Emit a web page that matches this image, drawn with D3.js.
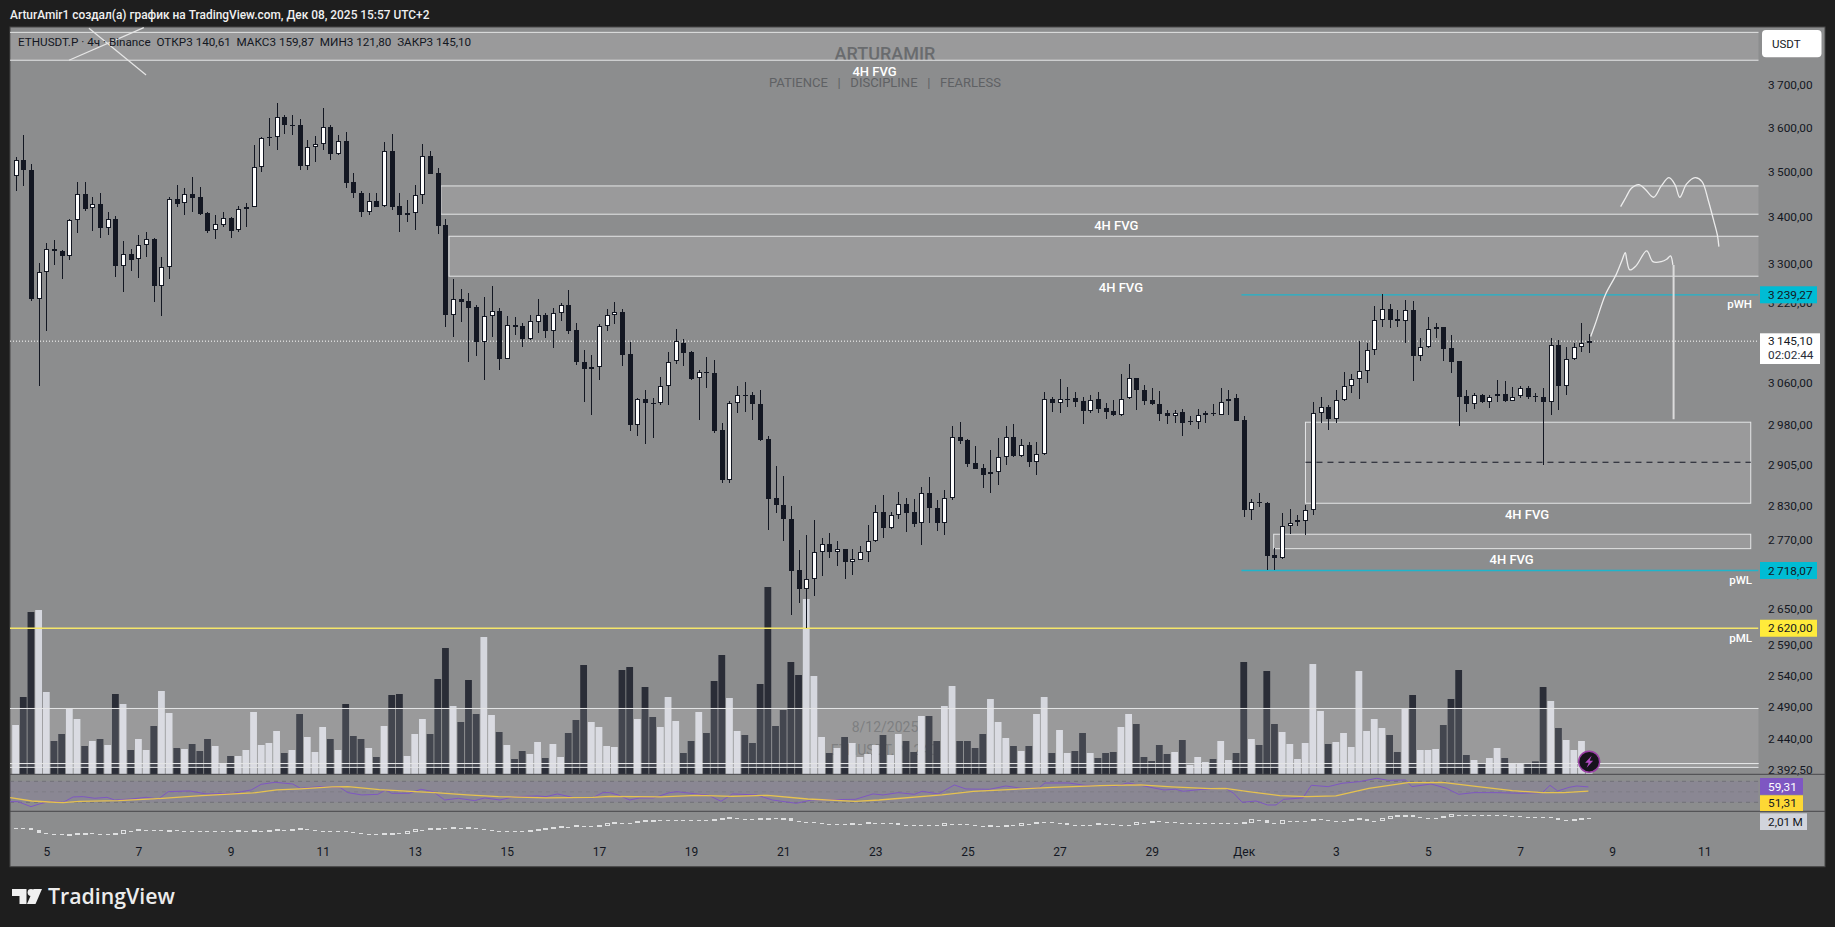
<!DOCTYPE html>
<html>
<head>
<meta charset="utf-8">
<script src="https://cdn.jsdelivr.net/npm/d3@7"></script>
<style>
html, body { margin: 0; padding: 0; background: #1e1e1e; overflow: hidden; }
svg { display: block; font-family: Roboto, sans-serif; }
</style>
</head>
<body>
<script>
// 4h candles, first one sits 4 bars before the "5" tick
var firstBar = -4;
var opens = [3493,3529,3507,3230,3286,3335,3330,3321,3397,3453,3423,3432,3379,3399,3300,3325,3313,3343,3356,3258,
3297,3442,3434,3453,3447,3412,3375,3387,3401,3375,3421,3426,3513,3578,3581,3627,3607,3608,3517,3558,
3566,3604,3542,3572,3480,3456,3415,3439,3427,3549,3427,3407,3413,3451,3538,3500,3386,3197,3230,3227,
3214,3143,3195,3206,3110,3177,3176,3150,3184,3198,3166,3201,3218,3168,3104,3089,3093,3175,3197,3205,
3120,2981,3031,3024,3023,3056,3105,3142,3124,3072,3084,3083,2972,2880,3023,3039,3039,3021,2955,2846,
2834,2809,2719,2687,2703,2750,2764,2751,2756,2733,2737,2750,2769,2822,2792,2815,2836,2821,2801,2855,
2828,2802,2846,2959,2954,2910,2901,2890,2893,2921,2959,2924,2944,2913,2927,3031,3024,3031,3033,3027,
3009,3031,3014,3008,3000,3033,3072,3048,3029,3021,3004,2998,3007,2988,2988,3000,3004,3001,3027,3034,
2991,2824,2839,2838,2745,2739,2797,2804,2805,2824,3005,3016,2994,3029,3056,3071,3085,3127,3187,3210,
3190,3185,3208,3116,3133,3169,3174,3132,3106,3037,3021,3039,3025,3037,3041,3028,3037,3053,3037,3035,
3025,3138,3057,3109,3133,3140.61];
var highs = [3535,3586,3521,3305,3347,3354,3332,3399,3481,3481,3448,3457,3415,3406,3352,3335,3365,3371,3359,3318,
3448,3473,3467,3491,3469,3415,3408,3414,3404,3428,3434,3563,3581,3625,3659,3632,3632,3623,3575,3584,
3648,3608,3586,3593,3500,3461,3456,3457,3569,3588,3456,3441,3473,3565,3549,3511,3399,3273,3251,3243,
3219,3234,3258,3212,3195,3193,3182,3198,3231,3201,3212,3223,3249,3181,3128,3118,3180,3210,3225,3211,
3144,3033,3049,3034,3074,3123,3170,3150,3126,3088,3113,3108,2986,3027,3057,3065,3045,3049,2960,2905,
2887,2832,2754,2780,2807,2775,2783,2770,2756,2756,2760,2798,2834,2852,2822,2857,2846,2844,2866,2885,
2843,2860,2980,2988,2955,2942,2908,2935,2957,2980,2984,2955,2949,2950,3045,3036,3070,3054,3045,3035,
3039,3045,3023,3030,3080,3100,3073,3058,3052,3047,3011,3011,3012,2999,3012,3009,3021,3052,3049,3041,
2999,2844,2855,2839,2757,2820,2827,2816,2834,3025,3035,3020,3049,3084,3081,3146,3141,3216,3241,3220,
3208,3229,3227,3151,3193,3181,3174,3158,3106,3049,3044,3041,3039,3068,3067,3054,3056,3056,3043,3052,
3151,3148,3133,3141,3181,3159.87];
var lows = [3461,3472,3227,3056,3166,3302,3273,3312,3370,3416,3374,3359,3365,3277,3245,3288,3275,3319,3225,3195,
3273,3426,3407,3415,3408,3370,3356,3381,3359,3372,3383,3425,3502,3561,3551,3588,3587,3508,3508,3526,
3551,3530,3541,3467,3444,3404,3409,3425,3425,3418,3372,3392,3376,3432,3498,3366,3174,3154,3184,3104,
3116,3068,3154,3088,3110,3158,3134,3148,3162,3152,3132,3185,3160,3097,3026,3001,3068,3166,3180,3095,
2971,2960,2945,2957,3020,3020,3099,3096,3068,2991,3053,2967,2874,2874,3005,3007,2991,2951,2789,2820,
2770,2642,2662,2621,2675,2708,2739,2726,2704,2710,2736,2733,2768,2774,2791,2808,2786,2795,2763,2802,
2787,2781,2842,2946,2904,2899,2865,2856,2870,2907,2921,2921,2903,2889,2925,3007,3004,3016,3017,2984,
3004,3005,2993,2999,2999,3031,3011,3019,3020,2990,2984,2986,2961,2982,2975,2986,2998,3001,3001,2989,
2813,2807,2830,2719,2719,2738,2782,2797,2780,2816,2986,2972,2985,3028,3044,3032,3063,3117,3174,3172,
3174,3141,3067,3106,3132,3151,3106,3083,2979,3007,3012,3023,3014,3026,3025,3027,3034,3031,3025,2906,
3000,3011,3040,3108,3124,3121.80];
var closes = [3529,3506,3230,3286,3335,3330,3321,3397,3453,3422,3431,3379,3399,3300,3324,3312,3343,3356,3258,3297,
3442,3432,3453,3446,3411,3374,3388,3401,3374,3420,3426,3513,3578,3581,3627,3608,3609,3517,3558,3566,
3604,3542,3572,3479,3455,3415,3438,3426,3549,3426,3407,3413,3451,3538,3499,3385,3197,3230,3225,3213,
3143,3195,3206,3110,3177,3174,3150,3185,3197,3166,3201,3218,3166,3103,3089,3093,3175,3197,3204,3118,
2981,3031,3023,3022,3056,3104,3146,3122,3070,3084,3083,2971,2880,3023,3039,3038,3021,2954,2845,2833,
2808,2718,2687,2703,2750,2764,2750,2755,2733,2738,2750,2769,2822,2792,2815,2835,2820,2800,2855,2829,
2802,2846,2959,2952,2909,2900,2889,2893,2921,2959,2924,2944,2913,2927,3031,3024,3032,3032,3026,3009,
3030,3013,3007,3000,3032,3072,3048,3028,3021,3003,2998,3005,2986,2989,3000,3004,3003,3026,3032,2990,
2824,2839,2837,2743,2739,2797,2802,2806,2824,3005,3016,2993,3029,3056,3071,3085,3127,3187,3210,3188,
3185,3208,3116,3133,3169,3173,3130,3104,3036,3021,3039,3025,3036,3041,3028,3036,3052,3036,3036,3025,
3137,3057,3109,3133,3141,3145.10];
// volume, same order as the candles (thousand contracts, rough read)
var volumes = [147,231,486,492,246,99,120,197,165,84,99,105,87,240,210,72,105,72,144,249,
183,78,75,90,69,105,84,33,54,54,72,186,87,93,129,63,72,180,111,66,
141,105,72,210,114,105,78,51,144,237,240,54,120,165,120,285,378,204,156,282,
180,411,177,126,87,45,69,60,96,48,90,51,123,162,327,156,141,84,81,312,
321,165,261,171,141,231,159,63,99,186,123,279,357,228,129,117,93,270,561,144,
192,336,297,525,294,111,63,78,111,93,51,60,87,117,57,120,99,66,174,174,
99,204,264,99,99,78,120,225,156,108,84,69,84,180,231,63,132,63,69,123,
63,48,63,66,141,180,150,51,39,87,60,66,102,27,51,36,45,99,42,63,
336,105,87,309,150,126,90,45,93,330,189,90,96,123,81,309,129,165,138,117,
66,195,237,72,72,75,147,225,312,57,42,30,48,78,48,32,32,30,38,261,
219,138,102,72,99,32];
// bottom pane, millions
var oscValues = [1.53,1.51,1.41,1.28,1.24,1.23,1.19,1.21,1.24,1.26,1.24,1.21,1.21,1.26,1.39,1.39,1.43,1.43,1.43,1.39,
1.41,1.39,1.39,1.39,1.39,1.39,1.38,1.36,1.36,1.38,1.38,1.39,1.38,1.39,1.43,1.43,1.46,1.48,1.44,1.39,
1.38,1.38,1.38,1.34,1.28,1.24,1.23,1.21,1.23,1.26,1.26,1.33,1.43,1.43,1.49,1.51,1.51,1.53,1.49,1.53,
1.49,1.44,1.39,1.38,1.36,1.36,1.36,1.38,1.46,1.48,1.56,1.59,1.59,1.63,1.63,1.59,1.66,1.76,1.78,1.78,
1.78,1.84,1.89,1.91,1.91,1.91,1.91,1.91,1.91,1.91,1.91,1.93,2.00,2.04,1.96,1.96,1.95,1.98,2.02,2.01,
2.02,1.89,1.84,1.84,1.76,1.71,1.71,1.71,1.71,1.74,1.74,1.80,1.76,1.76,1.76,1.66,1.66,1.66,1.66,1.66,
1.66,1.73,1.73,1.73,1.68,1.63,1.63,1.65,1.65,1.66,1.66,1.73,1.73,1.81,1.81,1.79,1.79,1.70,1.70,1.70,
1.70,1.74,1.74,1.70,1.70,1.70,1.79,1.79,1.86,1.81,1.81,1.76,1.76,1.76,1.76,1.76,1.76,1.76,1.76,1.76,
1.79,1.93,1.93,1.79,1.76,1.89,1.89,1.89,1.89,1.96,1.93,1.88,1.88,1.88,1.93,1.98,1.89,1.89,1.98,2.09,
2.13,2.16,2.09,2.03,2.03,2.03,2.09,2.18,2.18,2.18,2.18,2.18,2.18,2.18,2.14,2.13,2.10,2.10,2.09,2.09,
2.01,1.93,1.91,1.96,2.01,2.01];

// rsi, read where the line bends
var rsiBars = [-4.7,-3.7,-2,-0.9,0.7,2.2,3.5,4.8,6.3,7.9,8.9,11,13,14.6,15.9,18.7,20.8,24.4,25.4,26.7,28,29.8,32.1,33.1,35.7,38.3,39.3,41.1,43.2,44.2,45,47.3,48.8,50.4,51.9,53.7,55.8,57.1,59.1,61,64,65.1,66.6,68.7,71.2,72.5,73.4,74.5,76,77.3,79.1,81.2,82.2,83.2,86.3,87.9,89.4,92.5,94.6,97.7,99.7,105.4,107.7,109,111,113.1,114.1,116.2,118.3,119.8,122.9,125,127,129.3,130.1,133.2,135.3,139.4,140.9,143,145.6,147.1,148.1,150.7,153.6,154.7,155.8,157.6,159.1,160.2,161.2,163.7,164.8,167,168.8,171.1,173.3,174.8,177.1,177.9,180.4,182.4,184,186,189,192.1,194.9,195.9,196.9,198.4,199.4,200.9];
var rsiValues = [31.3,31.3,21.7,26.8,32.5,30,40.2,40.8,37.6,39.5,34.4,36.3,39.5,36.3,50.3,51.6,45.9,47.1,50.3,53.5,64.3,68.1,64.9,56.7,59.8,57.9,48.4,44,45.2,53.5,47.1,47.1,54.8,50.3,34.4,37.6,33.2,38.3,34.4,40.8,42.1,40.8,45.9,38.9,38.9,48.4,48.4,44,34.4,38.3,38.3,48.4,50.3,48.4,43.3,31.9,45.9,44,34.4,28.1,34.4,35.7,45.9,44,48.4,45.2,51,45.9,63,55.4,54.8,61.1,56.7,57.3,66.8,66.8,62.4,61.1,66.8,61.1,53.5,54.8,51,54.8,56.7,47.1,30,32.5,24.9,24.9,35.7,38.3,62.4,59.8,66.2,69.4,75.7,71.9,72.5,59.8,64.9,56.7,45.2,48.4,48.4,47.1,48.4,62.4,51.6,58.6,61.1,59.31];
var rsiMaBars = [-4.7,-1.9,0.4,2.2,4.3,9.4,15.1,20.2,26.9,30,33.1,37.2,39.3,43.4,48.6,50.6,54.8,58.9,65.1,71.2,73.4,80.1,84.8,89.4,94,99.2,105.4,108.5,116.7,120.8,127,131.1,137.3,142.5,146.6,151.7,153.6,156.6,160.7,164.2,168,172.3,177.4,181.9,186.5,191,194.9,197.7,200.9];
var rsiMaValues = [38.9,32.5,30.6,29.4,31.9,33.2,37.6,42.7,47.8,53.5,55.4,59.2,59.8,54.1,49.7,48.4,44,40.8,38.3,39.5,41.4,40.2,43.3,41.4,43.3,36.3,31.9,34.4,44,51,55.4,58.6,61.7,63,59.2,56,56.7,50.3,42.7,40.8,42.1,56.7,67.5,68.1,59.8,52.2,48.4,48.4,51.31];

var priceTicks = [3700,3600,3500,3400,3300,3220,3060,2980,2905,2830,2770,2710,2650,2590,2540,2490,2440,2392.5];
var dayBars = [0,12,24,36,48,60,72,84,96,108,120,132,144,156,168,180,192,204,216];
var dayLabels = ["5","7","9","11","13","15","17","19","21","23","25","27","29","Дек","3","5","7","9","11"];

// zones drawn on the chart
var zoneHighs = [3828,3471.6,3362.2,2987,2781.5,2489.6,2403.9];
var zoneLows = [3760.7,3409.7,3277.8,2836.9,2756.1,2403.9,2398];
var zoneStarts = [-20,51.4,52.46,164.04,159.9,-20,-20];
var zoneEnds = [240,240,240,222.05,222.05,240,240];
var zoneMid = 2911.9;

var fvgBars = [139.4,140,107.9,192.9,190.9];
var fvgPrices = [3386.5,3255.5,3735,2816.9,2737.6];

var lastPrice = 3145.10, pwh = 3239.27, pwl = 2718.07, pml = 2620;
var levelStartBar = 155.7;

// hand drawn stuff
var scribbleTop = [[205.1,3426.3],[205.8,3446.7],[206.5,3466.5],[207.5,3474.6],[208.3,3464.3],[209.4,3446.7],[210.4,3471.7],[211.4,3489.8],[212.2,3473.9],[212.8,3446.7],[213.7,3476],[214.8,3489.8],[215.7,3481.2],[216.5,3440.8],[217.2,3397.3],[217.7,3365],[217.9,3340.2]];
var scribbleLow = [[201.2,3154.3],[201.9,3184.5],[203.1,3239],[204.5,3280.6],[205.3,3311.9],[205.7,3327.5],[205.9,3311.9],[206.3,3291],[207.1,3299.4],[208.5,3331],[209.3,3308.4],[210.4,3308.4],[211.1,3313.3],[211.6,3320.4],[211.9,3301.4]];
var dropLine = [[212,3301.4],[212,2992.7]];
var crossA = [[2.96,3760.7],[12.7,3839.5]];
var crossB = [[5.56,3838],[13,3725.7]];

var candles = opens.map(function(o, i) {
    return {bar: firstBar + i, o: o, h: highs[i], l: lows[i], c: closes[i], v: volumes[i], osc: oscValues[i], prevOsc: i ? oscValues[i-1] : oscValues[0]};
});

var W = 1835, H = 927;
var plotL = 10, plotR = 1758.5, chartR = 1825, chartT = 27, chartB = 866.7;
var priceB = 774.3, rsiB = 811.3;
var DARK = "#131722", ZONE = "#e4e5e6";

var x = d3.scaleLinear().domain([0, 216]).range([46.3, 1704.3]);
var y = d3.scaleLog().domain([2392.5, 3700]).range([771, 85.8]);
var yVol = d3.scaleLinear().domain([0, 1000]).range([774, 440.7]);
var yRsi = d3.scaleLinear().domain([30, 70]).range([802.3, 781.3]);
var yOsc = d3.scaleLinear().domain([2.01, 0]).range([818.3, 858.5]);

var fmt = function(v) {
    return d3.format(".2f")(v).replace(".", ",").replace(/^(\d)(\d{3})/, "$1\u2009$2");
};
var px = function(i) { return Math.round(x(i)); };

var svg = d3.select("body").append("svg").attr("width", W).attr("height", H);
var defs = svg.append("defs");
defs.append("clipPath").attr("id", "plotClip").append("rect")
    .attr("x", plotL).attr("y", chartT).attr("width", plotR - plotL).attr("height", priceB - chartT);
defs.append("clipPath").attr("id", "rsiClip").append("rect")
    .attr("x", plotL).attr("y", priceB).attr("width", plotR - plotL).attr("height", rsiB - priceB);

svg.append("rect").attr("width", W).attr("height", H).attr("fill", "#1e1e1e");
svg.append("rect").attr("x", plotL).attr("y", chartT).attr("width", chartR - plotL).attr("height", chartB - chartT)
    .attr("fill", "#8c8d8e").attr("stroke", "#474747");

// header
svg.append("text").attr("x", 10).attr("y", 19).attr("fill", "#f0f0f0").attr("font-size", 11.9).attr("font-weight", 500)
    .text("ArturAmir1 создал(а) график на TradingView.com, Дек 08, 2025 15:57 UTC+2");

var plot = svg.append("g").attr("clip-path", "url(#plotClip)");

// watermarks sit under everything
plot.append("text").attr("x", 885).attr("y", 60).attr("text-anchor", "middle").attr("fill", "#55575a").attr("font-size", 18).attr("font-weight", 500).text("ARTURAMIR");
plot.append("text").attr("x", 885).attr("y", 86.5).attr("text-anchor", "middle").attr("fill", "#5f6164").attr("font-size", 13).attr("xml:space", "preserve").style("white-space", "pre").text("PATIENCE   |   DISCIPLINE   |   FEARLESS");
plot.append("text").attr("x", 885).attr("y", 732).attr("text-anchor", "middle").attr("fill", "#6d6e70").attr("font-size", 14).text("8/12/2025");
plot.append("text").attr("x", 884).attr("y", 755).attr("text-anchor", "middle").attr("fill", "#6d6e70").attr("font-size", 14).text("ETHUSDT.P · 240");

// volume
plot.selectAll("rect.vol").data(candles).enter().append("rect").attr("class", "vol")
    .attr("x", function(d) { return x(d.bar) - 3.4; })
    .attr("width", 6.8)
    .attr("y", function(d) { return yVol(d.v); })
    .attr("height", function(d) { return yVol(0) - yVol(d.v); })
    .attr("fill", function(d) { return d.c >= d.o ? "#d5d7de" : "#2a2d37"; });

// zones
zoneHighs.forEach(function(hi, i) {
    plot.append("rect")
        .attr("x", x(zoneStarts[i])).attr("width", x(zoneEnds[i]) - x(zoneStarts[i]))
        .attr("y", y(hi)).attr("height", y(zoneLows[i]) - y(hi))
        .attr("fill", "#fff").attr("fill-opacity", 0.12)
        .attr("stroke", ZONE).attr("stroke-width", 1);
});
plot.append("line").attr("x1", x(zoneStarts[3])).attr("x2", x(zoneEnds[3]))
    .attr("y1", y(zoneMid)).attr("y2", y(zoneMid))
    .attr("stroke", DARK).attr("stroke-dasharray", "6,5");

// horizontal levels
plot.append("line").attr("x1", plotL).attr("x2", plotR).attr("y1", y(lastPrice)).attr("y2", y(lastPrice))
    .attr("stroke", "#fff").attr("stroke-dasharray", "1,2");
plot.append("line").attr("x1", plotL).attr("x2", plotR).attr("y1", y(pml)).attr("y2", y(pml))
    .attr("stroke", "#f5e66a").attr("stroke-width", 1.5);
[pwh, pwl].forEach(function(p) {
    plot.append("line").attr("x1", x(levelStartBar)).attr("x2", plotR).attr("y1", y(p)).attr("y2", y(p))
        .attr("stroke", "#1fb5cb").attr("stroke-width", 1.3);
});

// candles
var cg = plot.selectAll("g.candle").data(candles).enter().append("g").attr("class", "candle").attr("shape-rendering", "crispEdges");
cg.append("line")
    .attr("x1", function(d) { return px(d.bar) + 0.5; }).attr("x2", function(d) { return px(d.bar) + 0.5; })
    .attr("y1", function(d) { return y(d.h); }).attr("y2", function(d) { return y(d.l); })
    .attr("stroke", DARK);
cg.append("rect")
    .attr("x", function(d) { return px(d.bar) - 2; }).attr("width", 5)
    .attr("y", function(d) { return y(Math.max(d.o, d.c)); })
    .attr("height", function(d) { return Math.max(1, y(Math.min(d.o, d.c)) - y(Math.max(d.o, d.c))); })
    .attr("fill", DARK);
cg.filter(function(d) { return d.c >= d.o && y(d.o) - y(d.c) > 2; }).append("rect")
    .attr("x", function(d) { return px(d.bar) - 1; }).attr("width", 3)
    .attr("y", function(d) { return y(d.c) + 1; })
    .attr("height", function(d) { return y(d.o) - y(d.c) - 2; })
    .attr("fill", "#fff");

// fvg text
fvgBars.forEach(function(b, i) {
    plot.append("text").attr("x", x(b)).attr("y", y(fvgPrices[i]) + 5).attr("text-anchor", "middle")
        .attr("fill", "#fff").attr("font-size", 13).attr("font-weight", 500).text("4H FVG");
});

// drawings
var line = d3.line().x(function(d) { return x(d[0]); }).y(function(d) { return y(d[1]); });
plot.append("path").attr("d", line.curve(d3.curveCatmullRom)(scribbleTop)).attr("fill", "none").attr("stroke", "#ececec").attr("stroke-width", 1.3);
plot.append("path").attr("d", line.curve(d3.curveCatmullRom)(scribbleLow)).attr("fill", "none").attr("stroke", "#ececec").attr("stroke-width", 1.3);
line.curve(d3.curveLinear);
plot.append("path").attr("d", line(dropLine)).attr("fill", "none").attr("stroke", "#dcdcdc").attr("stroke-width", 2);
plot.append("path").attr("d", line(crossA)).attr("fill", "none").attr("stroke", "#e6e6e6").attr("stroke-width", 1.2);
plot.append("path").attr("d", line(crossB)).attr("fill", "none").attr("stroke", "#e6e6e6").attr("stroke-width", 1.2);

// legend line
svg.append("text").attr("x", 18).attr("y", 46).attr("fill", DARK).attr("font-size", 11.7)
    .attr("xml:space", "preserve").style("white-space", "pre")
    .text("ETHUSDT.P · 4ч · Binance  ОТКР3 140,61  МАКС3 159,87  МИН3 121,80  ЗАКР3 145,10");

// level names
var nameAt = [["pWH", 3220], ["pWL", 2701.8], ["pML", 2604]];
nameAt.forEach(function(d) {
    svg.append("text").attr("x", 1752).attr("y", y(d[1]) + 4).attr("text-anchor", "end")
        .attr("fill", "#fff").attr("font-size", 11.5).attr("font-weight", 500).text(d[0]);
});

// volume flash icon
var icon = svg.append("g").attr("transform", "translate(" + x(201) + ",761.7)");
icon.append("circle").attr("r", 10.5).attr("fill", "#17131c").attr("stroke", "#9b3fa6").attr("stroke-width", 1.5);
icon.append("path").attr("d", d3.line()([[2.5,-6],[-4,1],[-0.5,1],[-2.5,6],[4,-1],[0.5,-1]]) + "Z").attr("fill", "#b44cc4");

// price axis
var yAxis = d3.axisRight(y).tickValues(priceTicks).tickSize(0).tickPadding(0).tickFormat(fmt);
var ya = svg.append("g").attr("transform", "translate(1768,-1.5)").call(yAxis);
ya.select(".domain").remove();
ya.selectAll("text").attr("fill", DARK).attr("font-size", 11.8).attr("font-family", "Roboto, sans-serif");

// time axis
var xAxis = d3.axisBottom(x).tickValues(dayBars).tickSize(0).tickPadding(0).tickFormat(function(d, i) { return dayLabels[i]; });
var xa = svg.append("g").attr("transform", "translate(0,847)").call(xAxis);
xa.select(".domain").remove();
xa.selectAll("text").attr("fill", DARK).attr("font-size", 12).attr("font-family", "Roboto, sans-serif");

// rsi pane
var rsiPane = svg.append("g").attr("clip-path", "url(#rsiClip)");
rsiPane.append("rect").attr("x", plotL).attr("width", plotR - plotL).attr("y", yRsi(70)).attr("height", yRsi(30) - yRsi(70))
    .attr("fill", "#7e57c2").attr("fill-opacity", 0.1);
[70, 50, 30].forEach(function(v) {
    rsiPane.append("line").attr("x1", plotL).attr("x2", plotR).attr("y1", yRsi(v)).attr("y2", yRsi(v))
        .attr("stroke", "#6a6b70").attr("stroke-dasharray", "4,4").attr("stroke-opacity", v == 50 ? 0.3 : 0.8);
});
var rsiLine = d3.line().x(function(d) { return x(d[0]); }).y(function(d) { return yRsi(d[1]); });
rsiPane.append("path").attr("d", rsiLine(d3.zip(rsiBars, rsiValues))).attr("fill", "none").attr("stroke", "#7e57c2").attr("stroke-width", 1);
rsiPane.append("path").attr("d", rsiLine(d3.zip(rsiMaBars, rsiMaValues))).attr("fill", "none").attr("stroke", "#e6c24f").attr("stroke-width", 1.3);

// bottom pane
var og = svg.append("g").attr("shape-rendering", "crispEdges");
og.selectAll("rect").data(candles).enter().append("rect")
    .attr("x", function(d) { return px(d.bar) - 2; }).attr("width", 4)
    .attr("y", function(d) { return yOsc(Math.max(d.osc, d.prevOsc)); })
    .attr("height", function(d) { return Math.max(1, Math.abs(yOsc(d.osc) - yOsc(d.prevOsc))); })
    .attr("fill", function(d) { return d.osc > d.prevOsc ? "none" : "#dfe0e1"; })
    .attr("stroke", function(d) { return d.osc > d.prevOsc ? "#dfe0e1" : "none"; });

// pane separators
[priceB, rsiB].forEach(function(py) {
    svg.append("line").attr("x1", plotL).attr("x2", chartR).attr("y1", py).attr("y2", py).attr("stroke", "#46474a");
});

// axis labels on top of the scale
function tag(y0, y1, x1, bg, fg, txt) {
    svg.append("rect").attr("x", 1760).attr("y", y0).attr("width", x1 - 1760).attr("height", y1 - y0).attr("fill", bg);
    svg.append("text").attr("x", 1768).attr("y", (y0 + y1) / 2 + 4.2).attr("fill", fg).attr("font-size", 11.8).text(txt);
}
tag(y(pwh) - 8.5, y(pwh) + 8.5, 1817, "#00bcd4", DARK, fmt(pwh));
tag(y(pwl) - 8.5, y(pwl) + 8.5, 1817, "#00bcd4", DARK, fmt(pwl));
tag(y(pml) - 8.5, y(pml) + 8.5, 1817, "#ffeb3b", DARK, fmt(pml));
tag(778, 794.7, 1803, "#7e57c2", "#fff", "59,31");
tag(795.3, 811, 1803, "#fdd835", DARK, "51,31");
tag(813.3, 830, 1807, "#d1d4dc", DARK, "2,01\u2009M");
svg.append("rect").attr("x", 1760).attr("y", 333.3).attr("width", 60).attr("height", 30.7).attr("fill", "#fff");
svg.append("text").attr("x", 1768).attr("y", 345).attr("fill", DARK).attr("font-size", 11.8).text(fmt(lastPrice));
svg.append("text").attr("x", 1768).attr("y", 359).attr("fill", "#2a2e39").attr("font-size", 11.8).text("02:02:44");

// USDT button
svg.append("rect").attr("x", 1762).attr("y", 30).attr("width", 59.5).attr("height", 27.3).attr("rx", 4).attr("fill", "#fff");
svg.append("text").attr("x", 1772).attr("y", 48).attr("fill", DARK).attr("font-size", 11.5).text("USDT");

// logo
var logo = svg.append("g").attr("fill", "#f0f0f0");
logo.append("path").attr("d", "M12 889h14.5v15h-7v-8h-7.5z");
logo.append("circle").attr("cx", 31).attr("cy", 892.5).attr("r", 3.4);
logo.append("path").attr("d", "M33.5 889h8.5l-6.5 15h-8.5z");
svg.append("text").attr("x", 48).attr("y", 904).attr("fill", "#ececec").attr("font-family", "'Open Sans', sans-serif").attr("font-size", 21.3).attr("font-weight", 600).text("TradingView");
</script>
</body>
</html>
